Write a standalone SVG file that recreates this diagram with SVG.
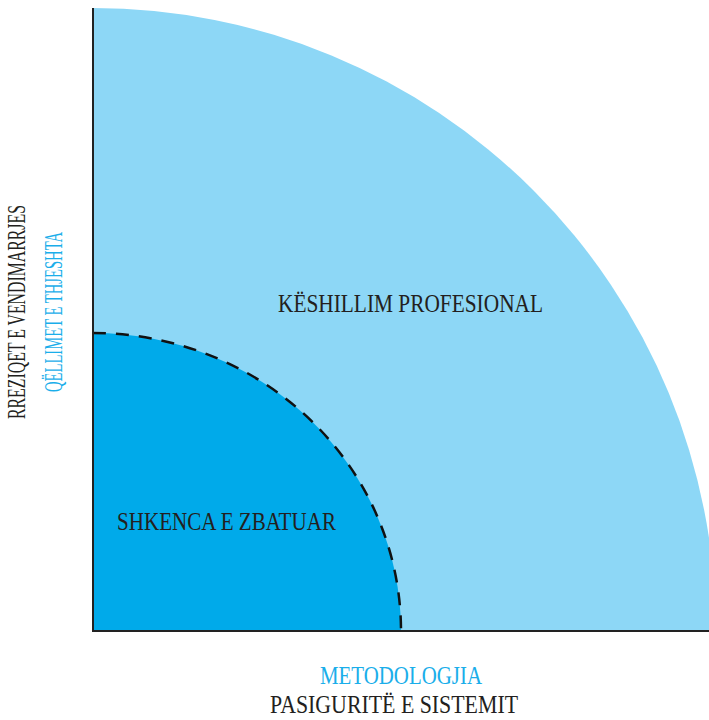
<svg xmlns="http://www.w3.org/2000/svg" width="709" height="720" viewBox="0 0 709 720">
<style>
.t{font-family:"Liberation Serif","DejaVu Serif",serif;font-size:24.5px;fill:#231f20}
.b{fill:#1aaeea}
</style>
<rect width="709" height="720" fill="#fff"/>
<g id="outer"><path d="M93,631 L93,8 A623,623 0 0 1 716,631 Z" fill="#8dd7f6"/></g>
<g id="inner"><path d="M93,631 L93,333 A308,298 0 0 1 401,631 Z" fill="#00aaea"/></g>
<g id="connectors">
<path d="M93,333 A308,298 0 0 1 401,631" fill="none" stroke="#111" stroke-width="2.5" stroke-dasharray="13,10"/>
<line x1="93" y1="8" x2="93" y2="632" stroke="#222" stroke-width="2"/>
<line x1="92" y1="631" x2="709" y2="631" stroke="#222" stroke-width="2"/>
</g>
<g id="labels">
<text class="t" x="278" y="312" textLength="265" lengthAdjust="spacingAndGlyphs">KËSHILLIM PROFESIONAL</text>
<text class="t" x="117" y="530" textLength="219" lengthAdjust="spacingAndGlyphs">SHKENCA E ZBATUAR</text>
<text class="t b" x="320" y="684" textLength="162" lengthAdjust="spacingAndGlyphs">METODOLOGJIA</text>
<text class="t" x="270" y="713" textLength="248" lengthAdjust="spacingAndGlyphs">PASIGURITË E SISTEMIT</text>
<text class="t" transform="translate(25,419) rotate(-90)" textLength="214" lengthAdjust="spacingAndGlyphs">RREZIQET E VENDIMARRJES</text>
<text class="t b" transform="translate(62,392) rotate(-90)" textLength="160" lengthAdjust="spacingAndGlyphs">QËLLIMET E THJESHTA</text>
</g>
</svg>
